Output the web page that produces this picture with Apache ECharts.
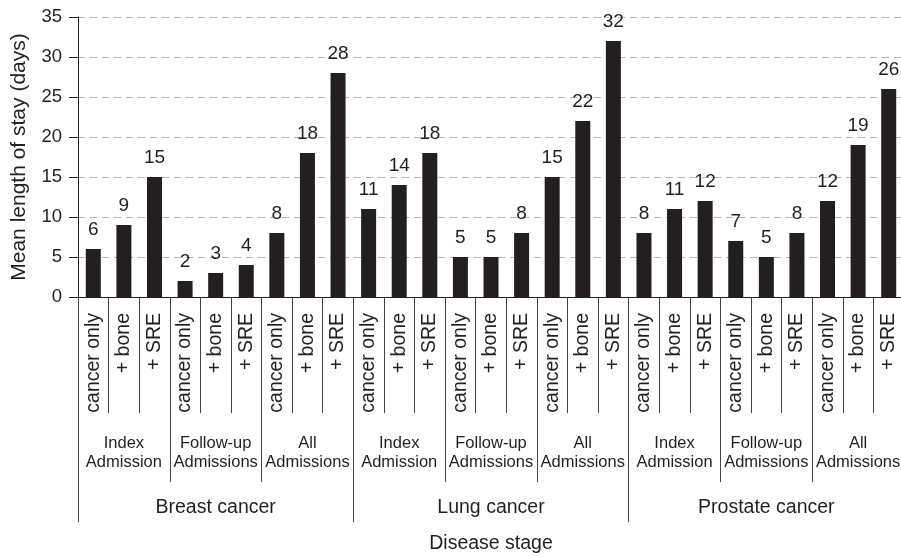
<!DOCTYPE html>
<html>
<head>
<meta charset="utf-8">
<script src="https://cdn.jsdelivr.net/npm/echarts@6/dist/echarts.min.js"></script>
<style>
  html, body { margin: 0; padding: 0; background: #fff; }
  #chart { width: 901px; height: 557px; }
</style>
</head>
<body>
<div id="chart"></div>
<script>
var measures = ['cancer only', '+ bone', '+ SRE'];
var stages = ['Index\nAdmission', 'Follow-up\nAdmissions', 'All\nAdmissions'];
var cancers = ['Breast cancer', 'Lung cancer', 'Prostate cancer'];
var stayDays = [6, 9, 15, 2, 3, 4, 8, 18, 28,
  11, 14, 18, 5, 5, 8, 15, 22, 32,
  8, 11, 12, 7, 5, 8, 12, 19, 26];
var yTicks = [0, 35, 5];

// build the nested category lists
var barCats = [];
var stageCats = [];
cancers.forEach(function () {
  stages.forEach(function (s) {
    stageCats.push(s);
    measures.forEach(function (m) { barCats.push(m); });
  });
});

var ink = '#231f20';
var font = '"Liberation Sans", Arial, sans-serif';

var chart = echarts.init(document.getElementById('chart'));
chart.setOption({
  animation: false,
  textStyle: { fontFamily: font, color: ink },
  grid: { left: 78, right: -3, top: 17, bottom: 260, outerBoundsMode: 'none' },
  xAxis: [
    {
      type: 'category',
      position: 'bottom',
      data: barCats,
      axisLine: { show: true, lineStyle: { color: ink, width: 1 } },
      axisTick: { show: true, length: 116, lineStyle: { color: '#444' } },
      axisLabel: { interval: 0, rotate: 90, margin: 16, fontSize: 19.5, color: ink, fontFamily: font }
    },
    {
      type: 'category',
      position: 'bottom',
      data: stageCats,
      axisLine: { show: false },
      axisTick: { show: true, interval: 0, length: 185, lineStyle: { color: '#444' } },
      axisLabel: { interval: 0, margin: 137, fontSize: 16.5, lineHeight: 19, color: ink, fontFamily: font }
    },
    {
      type: 'category',
      position: 'bottom',
      data: cancers,
      axisLine: { show: false },
      axisTick: { show: true, interval: 0, length: 225, lineStyle: { color: '#444' } },
      axisLabel: { interval: 0, margin: 200, fontSize: 19.5, lineHeight: 22, color: ink, fontFamily: font },
      name: 'Disease stage',
      nameLocation: 'middle',
      nameGap: 236,
      nameTextStyle: { fontSize: 19.5, color: ink, fontFamily: font, lineHeight: 22 }
    }
  ],
  yAxis: {
    type: 'value',
    min: yTicks[0],
    max: yTicks[1],
    interval: yTicks[2],
    name: 'Mean length of stay (days)',
    nameLocation: 'middle',
    nameGap: 45,
    nameTextStyle: { fontSize: 21, color: ink, fontFamily: font, lineHeight: 22 },
    axisLine: { show: true, lineStyle: { color: ink, width: 1 } },
    axisTick: { show: true, inside: false, length: 9, lineStyle: { color: ink } },
    axisLabel: { margin: 16, fontSize: 18.5, color: ink, fontFamily: font },
    splitLine: { show: true, lineStyle: { color: '#b5b5b5', type: [7, 5], width: 1 } }
  },
  series: [{
    type: 'bar',
    xAxisIndex: 0,
    data: stayDays,
    barWidth: 15,
    itemStyle: { color: ink },
    label: {
      show: true,
      position: 'top',
      distance: 10,
      fontSize: 19,
      color: ink,
      fontFamily: font
    }
  }]
});
</script>
</body>
</html>
